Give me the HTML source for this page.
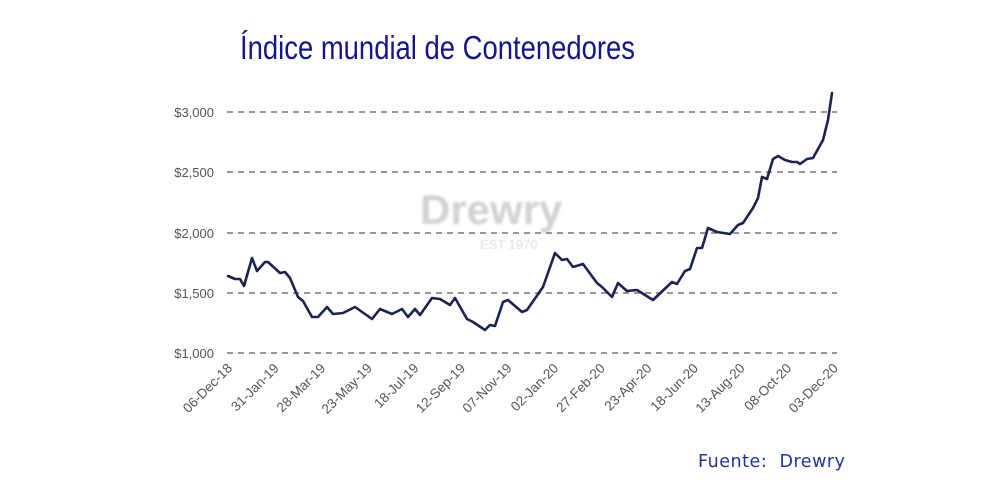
<!DOCTYPE html>
<html><head><meta charset="utf-8"><style>
html,body{margin:0;padding:0;background:#fff;}
body{width:1000px;height:500px;overflow:hidden;position:relative;font-family:"Liberation Sans",sans-serif;}
</style></head><body>
<svg width="1000" height="500" xmlns="http://www.w3.org/2000/svg" style="position:absolute;left:0;top:0">
<text x="240" y="59" font-family="Liberation Sans, sans-serif" font-size="33" fill="#15168a" textLength="395" lengthAdjust="spacingAndGlyphs">Índice mundial de Contenedores</text>
<g font-family="Liberation Sans, sans-serif">
<text x="420" y="224" font-size="42" font-weight="bold" filter="blur(1.2px)" fill="#d2d2d2">Drewry</text>
<text x="480" y="249" font-size="13" fill="#dddddd" filter="blur(0.5px)">EST 1970</text>
</g>
<g stroke="#777" stroke-width="1.6" stroke-dasharray="6,5">
<line x1="227" y1="112" x2="837" y2="112"/>
<line x1="227" y1="172" x2="837" y2="172"/>
<line x1="227" y1="233" x2="837" y2="233"/>
<line x1="227" y1="293" x2="837" y2="293"/>
<line x1="227" y1="353" x2="837" y2="353"/>
</g>
<g font-size="13" fill="#555" text-anchor="end">
<text x="214" y="117">$3,000</text>
<text x="214" y="177">$2,500</text>
<text x="214" y="238">$2,000</text>
<text x="214" y="298">$1,500</text>
<text x="214" y="358">$1,000</text>
</g>
<g font-size="13.5" fill="#555" text-anchor="end">
<text transform="translate(233,369) rotate(-45)">06-Dec-18</text>
<text transform="translate(279.6,369) rotate(-45)">31-Jan-19</text>
<text transform="translate(326.2,369) rotate(-45)">28-Mar-19</text>
<text transform="translate(372.8,369) rotate(-45)">23-May-19</text>
<text transform="translate(419.4,369) rotate(-45)">18-Jul-19</text>
<text transform="translate(466,369) rotate(-45)">12-Sep-19</text>
<text transform="translate(512.6,369) rotate(-45)">07-Nov-19</text>
<text transform="translate(559.2,369) rotate(-45)">02-Jan-20</text>
<text transform="translate(605.8,369) rotate(-45)">27-Feb-20</text>
<text transform="translate(652.4,369) rotate(-45)">23-Apr-20</text>
<text transform="translate(699,369) rotate(-45)">18-Jun-20</text>
<text transform="translate(745.6,369) rotate(-45)">13-Aug-20</text>
<text transform="translate(792.2,369) rotate(-45)">08-Oct-20</text>
<text transform="translate(838.8,369) rotate(-45)">03-Dec-20</text>
</g>
<polyline fill="none" stroke="#1b2350" stroke-width="2.6" stroke-linejoin="round" stroke-linecap="round" points="228,276 235,279 240,279 244,286 252,258 257,271 265,262 268,262 280,273 285,272 290,278 298,297 303,301 312,317 318,317 327,307 333,314 343,313 355,307 372,319 380,309 392,314 402,309 408,317 415,309 420,315 432,298 440,299 450,305 455,298 467,319 473,322 485,330 490,325 495,326 503,302 508,300 522,312 527,310 543,287 555,253 562,260 567,259 573,267 583,264 597,283 602,287 612,297 618,283 627,291 637,290 653,300 672,282 677,284 685,271 690,269 697,248 702,248 708,228 717,232 730,234 738,225 743,223 753,208 758,198 762,177 767,179 773,159 778,156 785,160 792,162 797,162 800,164 807,159 813,158 823,140 828,120 832,93"/>
<text x="698" y="467" font-family="DejaVu Sans, sans-serif" font-size="17.5" fill="#2233a0" textLength="147" lengthAdjust="spacing">Fuente:&#160;&#160;Drewry</text>
</svg>
</body></html>
